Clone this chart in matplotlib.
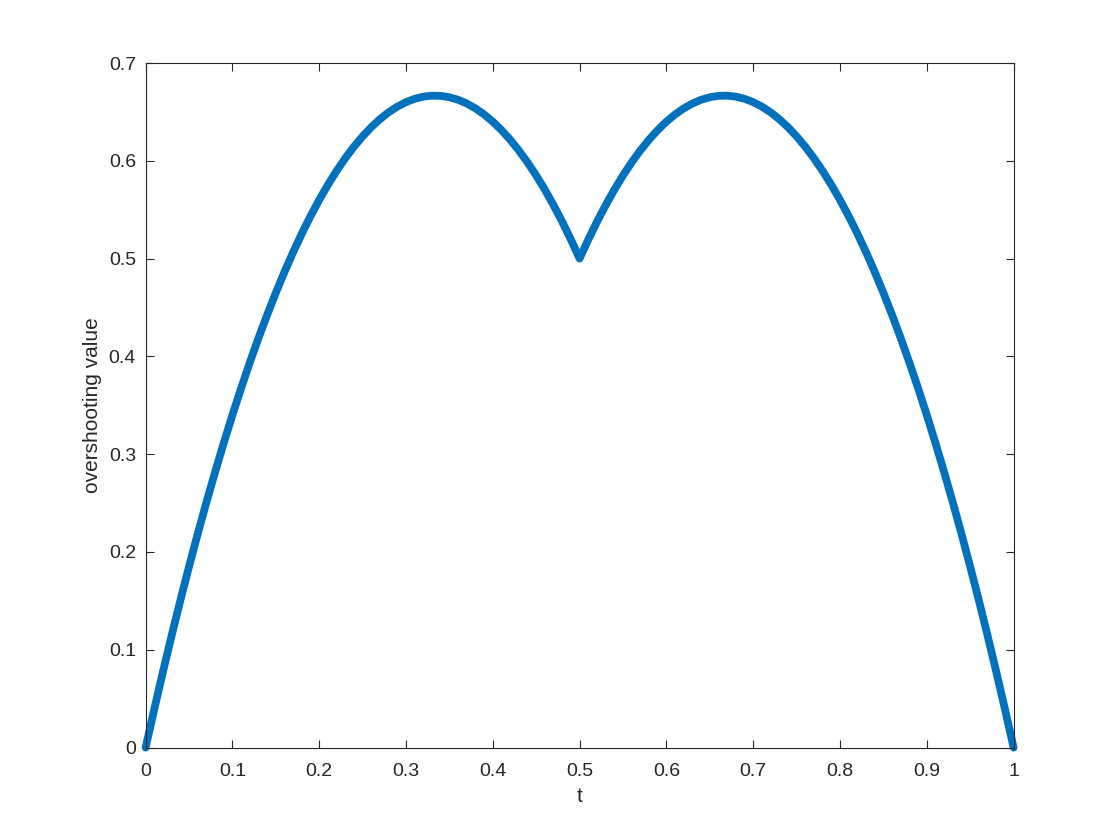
import matplotlib
matplotlib.use('Agg')
import matplotlib.pyplot as plt

# values, step 0.01 in t
t = [0.00, 0.01, 0.02, 0.03, 0.04, 0.05, 0.06, 0.07, 0.08, 0.09,
     0.10, 0.11, 0.12, 0.13, 0.14, 0.15, 0.16, 0.17, 0.18, 0.19,
     0.20, 0.21, 0.22, 0.23, 0.24, 0.25, 0.26, 0.27, 0.28, 0.29,
     0.30, 0.31, 0.32, 0.33, 0.34, 0.35, 0.36, 0.37, 0.38, 0.39,
     0.40, 0.41, 0.42, 0.43, 0.44, 0.45, 0.46, 0.47, 0.48, 0.49,
     0.50, 0.51, 0.52, 0.53, 0.54, 0.55, 0.56, 0.57, 0.58, 0.59,
     0.60, 0.61, 0.62, 0.63, 0.64, 0.65, 0.66, 0.67, 0.68, 0.69,
     0.70, 0.71, 0.72, 0.73, 0.74, 0.75, 0.76, 0.77, 0.78, 0.79,
     0.80, 0.81, 0.82, 0.83, 0.84, 0.85, 0.86, 0.87, 0.88, 0.89,
     0.90, 0.91, 0.92, 0.93, 0.94, 0.95, 0.96, 0.97, 0.98, 0.99,
     1.00]
overshoot = [0.0000, 0.0394, 0.0776, 0.1146, 0.1504, 0.1850, 0.2184, 0.2506, 0.2816, 0.3114,
             0.3400, 0.3674, 0.3936, 0.4186, 0.4424, 0.4650, 0.4864, 0.5066, 0.5256, 0.5434,
             0.5600, 0.5754, 0.5896, 0.6026, 0.6144, 0.6250, 0.6344, 0.6426, 0.6496, 0.6554,
             0.6600, 0.6634, 0.6656, 0.6666, 0.6664, 0.6650, 0.6624, 0.6586, 0.6536, 0.6474,
             0.6400, 0.6314, 0.6216, 0.6106, 0.5984, 0.5850, 0.5704, 0.5546, 0.5376, 0.5194,
             0.5000, 0.5194, 0.5376, 0.5546, 0.5704, 0.5850, 0.5984, 0.6106, 0.6216, 0.6314,
             0.6400, 0.6474, 0.6536, 0.6586, 0.6624, 0.6650, 0.6664, 0.6666, 0.6656, 0.6634,
             0.6600, 0.6554, 0.6496, 0.6426, 0.6344, 0.6250, 0.6144, 0.6026, 0.5896, 0.5754,
             0.5600, 0.5434, 0.5256, 0.5066, 0.4864, 0.4650, 0.4424, 0.4186, 0.3936, 0.3674,
             0.3400, 0.3114, 0.2816, 0.2506, 0.2184, 0.1850, 0.1504, 0.1146, 0.0776, 0.0394,
             0.0000]

xticks = [0, 0.1, 0.2, 0.3, 0.4, 0.5, 0.6, 0.7, 0.8, 0.9, 1]
xticklabels = ['0', '0.1', '0.2', '0.3', '0.4', '0.5', '0.6', '0.7', '0.8', '0.9', '1']
yticks = [0, 0.1, 0.2, 0.3, 0.4, 0.5, 0.6, 0.7]
yticklabels = ['0', '0.1', '0.2', '0.3', '0.4', '0.5', '0.6', '0.7']

plt.rcParams['font.family'] = ['Liberation Sans', 'DejaVu Sans']
dark = '#262626'

fig = plt.figure(figsize=(11.2, 8.4), dpi=100)
ax = fig.add_axes([0.13, 0.11, 0.775, 0.815])
ax.plot(t, overshoot, color='#0072BD', lw=5.6, solid_capstyle='round',
        solid_joinstyle='round', clip_on=False)

ax.set_xlim(0, 1)
ax.set_ylim(0, 0.7)
ax.set_xticks(xticks)
ax.set_xticklabels(xticklabels)
ax.set_yticks(yticks)
ax.set_yticklabels(yticklabels)
ax.tick_params(direction='in', length=6, width=0.8, top=True, right=True,
               labelsize=14, colors=dark)
ax.tick_params(axis='x', pad=11)
ax.tick_params(axis='y', pad=7)
for s in ax.spines.values():
    s.set_color(dark)
    s.set_linewidth(0.8)
ax.set_xlabel('t', fontsize=15, color=dark, labelpad=5)
ax.set_ylabel('overshooting value', fontsize=15, color=dark, labelpad=5)

fig.savefig('out.png', dpi=100)
